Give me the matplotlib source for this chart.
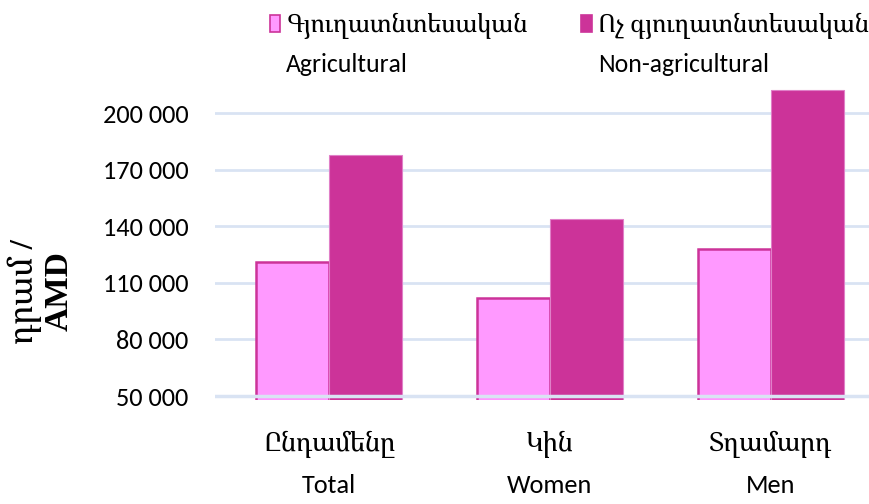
import matplotlib
matplotlib.use('Agg')
import matplotlib.pyplot as plt
from matplotlib.patches import Rectangle
import numpy as np

categories = ['Ընդամենը\nTotal', 'Կին\nWomen', 'Տղամարդ\nMen']
agricultural = [121000, 102000, 128000]
non_agricultural = [178000, 144000, 212000]
yticks = [50000, 80000, 110000, 140000, 170000, 200000]
series_labels = [('Գյուղատնտեսական', 'Agricultural'),
                 ('Ոչ գյուղատնտեսական', 'Non-agricultural')]

light = '#FF99FF'
dark = '#CC3399'
grid_col = '#D9E3F3'

fam = ['Carlito', 'Noto Serif Armenian', 'DejaVu Sans']
serif_fam = ['Liberation Serif', 'Noto Serif Armenian', 'DejaVu Serif']

fig = plt.figure(figsize=(8.7, 5.04), dpi=100)
ax = fig.add_axes([0.247, 0.2063, 0.753, 0.6191])

x = np.arange(len(categories))
w = 0.33
ax.bar(x - w / 2, agricultural, w, color=light, edgecolor=dark, linewidth=1.8, zorder=2)
ax.bar(x + w / 2, non_agricultural, w, color=dark, edgecolor='#E080C8', linewidth=0.8, zorder=2)

ax.set_ylim(47900, 213300)
ax.set_xlim(-0.516, 2.448)
ax.set_yticks(yticks)
ax.set_yticklabels([f'{v:,}'.replace(',', ' ') for v in yticks], family=fam, fontsize=19)
ax.yaxis.grid(True, color=grid_col, linewidth=2, zorder=0)
ax.axhline(50000, color=grid_col, linewidth=2.5, zorder=3)
ax.set_axisbelow(True)
ax.tick_params(axis='y', length=0, pad=19)
ax.tick_params(axis='x', length=0, pad=22)
ax.set_xticks(x)
ax.set_xticklabels(categories, family=fam, fontsize=19, linespacing=1.85)
for s in ax.spines.values():
    s.set_visible(False)

fig.text(0.047, 0.422, 'դրամ /\nAMD', rotation=90, family=serif_fam, fontsize=24,
         fontweight='bold', ha='center', va='center', linespacing=1.05)

# legend
for (arm, eng), col, ec, lx in [(series_labels[0], light, dark, 0.310),
                                (series_labels[1], dark, dark, 0.668)]:
    fig.add_artist(Rectangle((lx, 0.936), 0.012, 0.034, transform=fig.transFigure,
                             facecolor=col, edgecolor=ec, linewidth=1.2))
    fig.text(lx + 0.019, 0.948, arm, family=fam, fontsize=18, ha='left', va='center')
    fig.text(lx + 0.019, 0.873, eng, family=fam, fontsize=18.5, ha='left', va='center')

fig.savefig('out.png', dpi=100)
